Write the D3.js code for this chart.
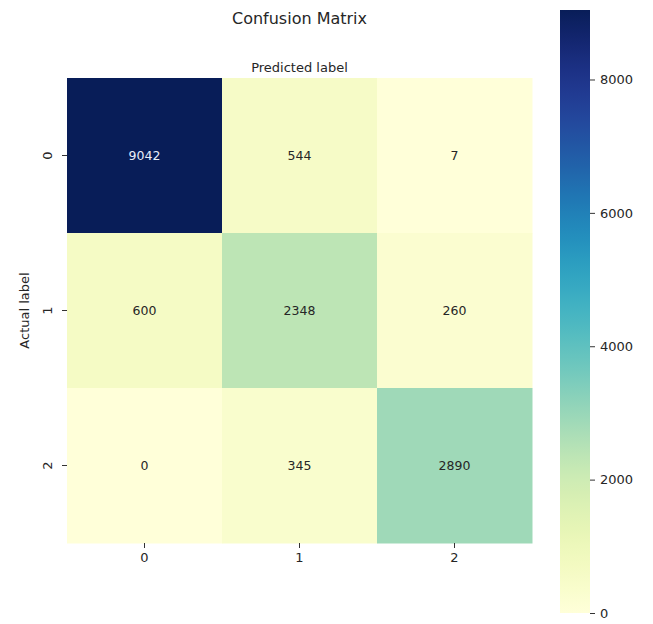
<!DOCTYPE html>
<html><head><meta charset="utf-8">
<script src="https://cdn.jsdelivr.net/npm/d3@7"></script>
<style>body{margin:0;background:#fff}svg{display:block}text{font-family:"DejaVu Sans",sans-serif}</style>
</head><body>
<svg id="c" width="653" height="624"></svg>
<script>
const title = "Confusion Matrix";
const xTitle = "Predicted label";
const yTitle = "Actual label";
const predicted = ["0","1","2"];
const actual = ["0","1","2"];
const row0 = [9042, 544, 7];
const row1 = [600, 2348, 260];
const row2 = [0, 345, 2890];
const colorTicks = [0, 2000, 4000, 6000, 8000];

const rows = [row0, row1, row2];
const cells = [];
rows.forEach((r, i) => r.forEach((v, j) => cells.push({a: actual[i], p: predicted[j], v})));
const vmin = d3.min(cells, d => d.v), vmax = d3.max(cells, d => d.v);

const svg = d3.select("#c");
const L = 67, T = 78, S = 465;
const x = d3.scaleBand().domain(predicted).range([L, L + S]);
const y = d3.scaleBand().domain(actual).range([T, T + S]);
const color = d3.scaleSequential(d3.interpolateYlGnBu).domain([vmin, vmax]);

svg.append("g").selectAll("rect").data(cells).join("rect")
  .attr("x", d => x(d.p)).attr("y", d => y(d.a))
  .attr("width", x.bandwidth() + 0.5).attr("height", y.bandwidth() + 0.5)
  .attr("fill", d => color(d.v));

function lum(c){const r=d3.rgb(c);const f=v=>{v/=255;return v<=0.03928?v/12.92:Math.pow((v+0.055)/1.055,2.4)};return 0.2126*f(r.r)+0.7152*f(r.g)+0.0722*f(r.b);}
svg.append("g").selectAll("text").data(cells).join("text")
  .attr("x", d => x(d.p) + x.bandwidth()/2).attr("y", d => y(d.a) + y.bandwidth()/2)
  .attr("text-anchor", "middle").attr("dominant-baseline", "central")
  .attr("font-size", 12.5)
  .attr("fill", d => lum(color(d.v)) < 0.408 ? "#e8eef8" : "#262626")
  .text(d => d.v);

// x axis (bottom)
const gx = svg.append("g").attr("transform", `translate(0,${T+S})`)
  .call(d3.axisBottom(x).tickSize(5).tickPadding(5));
gx.select(".domain").remove();
gx.selectAll("line").attr("stroke", "#333");
gx.selectAll("text").attr("font-size", 13).attr("fill", "#262626").attr("font-family", "DejaVu Sans");

// y axis (left), rotated labels
const gy = svg.append("g").attr("transform", `translate(${L},0)`)
  .call(d3.axisLeft(y).tickSize(5).tickPadding(4));
gy.select(".domain").remove();
gy.selectAll("line").attr("stroke", "#333");
gy.selectAll("text").attr("font-size", 13).attr("fill", "#262626").attr("font-family", "DejaVu Sans")
  .attr("text-anchor", "middle").attr("dy", null).attr("x", null)
  .attr("transform", "translate(-20,0) rotate(-90)").attr("dominant-baseline", "central");

svg.append("text").attr("x", L + S/2).attr("y", 24).attr("text-anchor", "middle")
  .attr("font-size", 16).attr("fill", "#262626").text(title);
svg.append("text").attr("x", L + S/2).attr("y", 72).attr("text-anchor", "middle")
  .attr("font-size", 13).attr("fill", "#262626").text(xTitle);
svg.append("text").attr("transform", `translate(29,${T+S/2}) rotate(-90)`).attr("text-anchor", "middle")
  .attr("font-size", 13).attr("fill", "#262626").text(yTitle);

// colorbar
const cbX = 560, cbW = 30, cbTop = 10, cbBot = 613;
const cy = d3.scaleLinear().domain([vmin, vmax]).range([cbBot, cbTop]);
const defs = svg.append("defs");
const grad = defs.append("linearGradient").attr("id", "g").attr("x1", 0).attr("y1", 1).attr("x2", 0).attr("y2", 0);
d3.range(0, 1.0001, 0.02).forEach(t => grad.append("stop").attr("offset", t).attr("stop-color", d3.interpolateYlGnBu(t)));
svg.append("rect").attr("x", cbX).attr("y", cy(vmax)).attr("width", cbW).attr("height", cy(vmin) - cy(vmax)).attr("fill", "url(#g)");
const gc = svg.append("g").attr("transform", `translate(${cbX+cbW},0)`)
  .call(d3.axisRight(cy).tickValues(colorTicks).tickFormat(d3.format("d")).tickSize(5).tickPadding(5));
gc.select(".domain").remove();
gc.selectAll("line").attr("stroke", "#333");
gc.selectAll("text").attr("font-size", 13).attr("fill", "#262626").attr("font-family", "DejaVu Sans");
</script>
</body></html>
